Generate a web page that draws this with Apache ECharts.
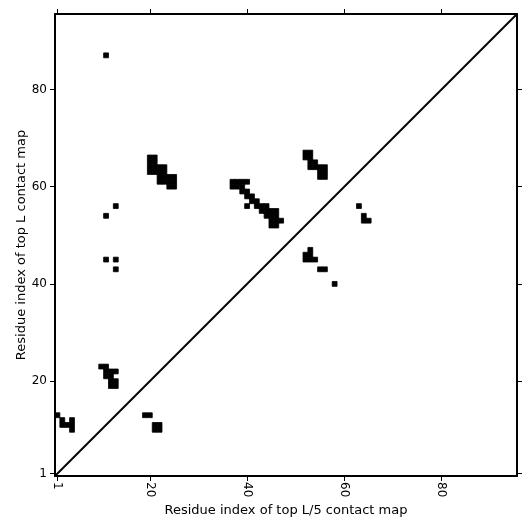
<!DOCTYPE html>
<html>
<head>
<meta charset="utf-8">
<script src="https://cdn.jsdelivr.net/npm/echarts@6/dist/echarts.min.js"></script>
<style>
html, body { margin: 0; padding: 0; background: #fff; }
#contactMap { width: 531px; height: 531px; }
</style>
</head>
<body>
<div id="contactMap"></div>
<script>
// residue range of the map
const residueMin = 0.5;
const residueMax = 95.5;
const tickValues = [1, 20, 40, 60, 80];

// contact cells: residue i (x) and residue j (y)
const contactI = [
    1, 2, 2, 3, 4, 4, 4,
    10, 11, 11, 12, 13, 11, 12, 12, 13, 12, 13,
    19, 20, 21, 22, 21, 22,
    11, 11, 13, 11, 13, 13,
    20, 20, 20, 20, 21, 21, 21, 21, 22, 22, 22, 22, 23, 23, 23, 23, 24, 24, 24, 25, 25, 25,
    37, 37, 38, 38, 39, 39, 39, 40, 40, 40, 40, 41, 41, 42, 42, 43, 43, 44, 44, 44,
    45, 45, 45, 45, 46, 46, 46, 46, 47,
    52, 52, 53, 53, 53, 53, 54, 54, 55, 55, 55, 56, 56, 56,
    53, 52, 53, 52, 53, 54, 55, 56, 58,
    63, 64, 64, 65
];
const contactJ = [
    13, 12, 11, 11, 12, 11, 10,
    23, 23, 22, 22, 22, 21, 21, 20, 20, 19, 19,
    13, 13, 11, 11, 10, 10,
    87, 54, 56, 45, 45, 43,
    63, 64, 65, 66, 63, 64, 65, 66, 61, 62, 63, 64, 61, 62, 63, 64, 60, 61, 62, 60, 61, 62,
    60, 61, 60, 61, 59, 60, 61, 56, 58, 59, 61, 57, 58, 56, 57, 55, 56, 54, 55, 56,
    52, 53, 54, 55, 52, 53, 54, 55, 53,
    66, 67, 66, 67, 64, 65, 64, 65, 62, 63, 64, 62, 63, 64,
    47, 46, 46, 45, 45, 45, 43, 43, 40,
    56, 54, 53, 53
];

const cells = contactI.map((v, k) => [v, contactJ[k]]);

const chart = echarts.init(document.getElementById('contactMap'));

function xAxisOf(pos, showLabel) {
    return {
        type: 'value',
        position: pos,
        min: residueMin,
        max: residueMax,
        name: showLabel ? 'Residue index of top L/5 contact map' : '',
        nameLocation: 'middle',
        nameGap: 28,
        nameMoveOverlap: false,
        nameTextStyle: { color: '#000', fontSize: 13, fontFamily: 'DejaVu Sans' },
        axisLine: { show: true, onZero: false, lineStyle: { color: '#000', width: 2 } },
        axisTick: { show: true, inside: false, length: 5, customValues: tickValues, lineStyle: { color: '#000', width: 1 } },
        axisLabel: {
            show: showLabel, customValues: tickValues, rotate: -90, margin: 6,
            color: '#000', fontSize: 12, fontFamily: 'DejaVu Sans'
        },
        splitLine: { show: false }
    };
}

function yAxisOf(pos, showLabel) {
    return {
        type: 'value',
        position: pos,
        min: residueMin,
        max: residueMax,
        name: showLabel ? 'Residue index of top L contact map' : '',
        nameLocation: 'middle',
        nameGap: 27,
        nameMoveOverlap: false,
        nameTextStyle: { color: '#000', fontSize: 13, fontFamily: 'DejaVu Sans' },
        axisLine: { show: true, onZero: false, lineStyle: { color: '#000', width: 2 } },
        axisTick: { show: true, inside: false, length: 5, customValues: tickValues, lineStyle: { color: '#000', width: 1 } },
        axisLabel: {
            show: showLabel, customValues: tickValues, margin: 8,
            color: '#000', fontSize: 12, fontFamily: 'DejaVu Sans'
        },
        splitLine: { show: false }
    };
}

const option = {
    backgroundColor: '#fff',
    animation: false,
    grid: { left: 55, right: 14, top: 14, bottom: 55 },
    xAxis: [xAxisOf('bottom', true), xAxisOf('top', false)],
    yAxis: [yAxisOf('left', true), yAxisOf('right', false)],
    series: [
        {
            type: 'custom',
            xAxisIndex: 0,
            yAxisIndex: 0,
            renderItem: function (params, api) {
                const topLeft = api.coord([api.value(0) - 0.5, api.value(1) + 0.5]);
                const size = api.size([1, 1]);
                return {
                    type: 'rect',
                    shape: { x: topLeft[0], y: topLeft[1], width: size[0], height: size[1] },
                    // thin same-colour stroke hides the seams between neighbours
                    style: { fill: '#000', stroke: '#000', lineWidth: 0.8 }
                };
            },
            data: cells
        },
        {
            // diagonal
            type: 'line',
            xAxisIndex: 0,
            yAxisIndex: 0,
            symbol: 'none',
            lineStyle: { color: '#000', width: 2 },
            data: [[residueMin, residueMin], [residueMax, residueMax]]
        }
    ]
};
chart.setOption(option);
</script>
</body>
</html>
